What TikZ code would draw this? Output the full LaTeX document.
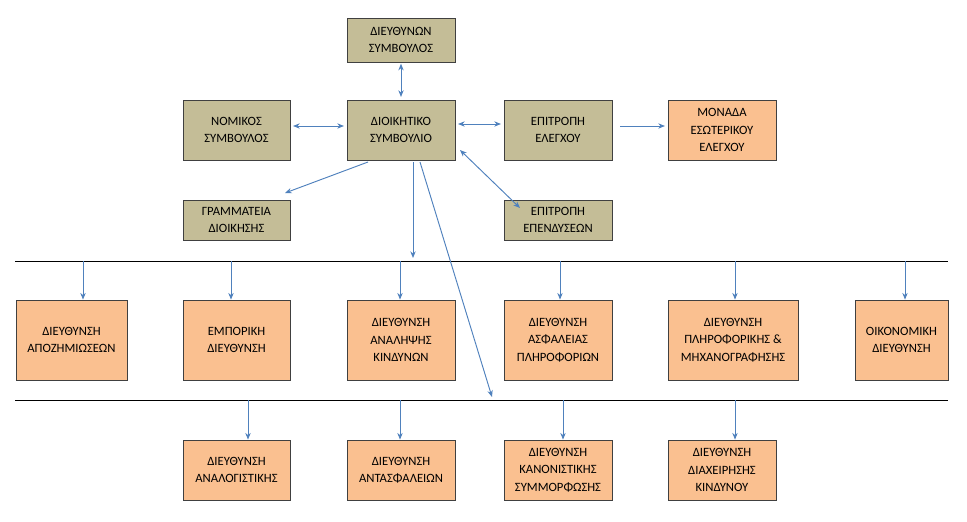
\documentclass[tikz,border=0pt]{standalone}
\usepackage{fontspec}
\setmainfont{Carlito}
\usetikzlibrary{calc,arrows.meta}
\begin{document}
\begin{tikzpicture}[x=0.75pt,y=-0.75pt,
  box/.style={draw=black!75,line width=0.6pt,align=center,inner sep=1pt,font=\fontsize{9.5}{13}\selectfont},
  kh/.style={box,fill=kh},
  og/.style={box,fill=og},
  arr/.style={draw=ar,line width=0.7pt,-{Stealth[length=5pt,width=4pt]}},
  darr/.style={draw=ar,line width=0.7pt,{Stealth[length=5pt,width=4pt]}-{Stealth[length=5pt,width=4pt]}},
  hl/.style={draw=black,line width=0.6pt}]
\definecolor{kh}{HTML}{C4BD97}
\definecolor{og}{HTML}{FAC090}
\definecolor{ar}{HTML}{4F81BD}
\useasboundingbox[fill=white] (0,0) rectangle (967,521);
\def\bx#1#2#3#4#5#6#7{\node[#1,minimum width={(#4-#3)*0.75pt},minimum height={(#6-#5)*0.75pt}] (#2) at ({(#3+#4)/2},{(#5+#6)/2}) {#7};}
\bx{kh}{dsym}{347}{455}{18}{62}{ΔΙΕΥΘΥΝΩΝ\\ΣΥΜΒΟΥΛΟΣ}
\bx{kh}{nom}{183}{290}{100}{160}{ΝΟΜΙΚΟΣ\\ΣΥΜΒΟΥΛΟΣ}
\bx{kh}{ds}{347}{455}{100}{160}{ΔΙΟΙΚΗΤΙΚΟ\\ΣΥΜΒΟΥΛΙΟ}
\bx{kh}{epel}{504}{612}{100}{160}{ΕΠΙΤΡΟΠΗ\\ΕΛΕΓΧΟΥ}
\bx{og}{mon}{668}{776}{100}{160}{ΜΟΝΑΔΑ\\ΕΣΩΤΕΡΙΚΟΥ\\ΕΛΕΓΧΟΥ}
\bx{kh}{gram}{183}{290}{200}{240}{ΓΡΑΜΜΑΤΕΙΑ\\ΔΙΟΙΚΗΣΗΣ}
\bx{kh}{epen}{504}{612}{200}{240}{ΕΠΙΤΡΟΠΗ\\ΕΠΕΝΔΥΣΕΩΝ}
\bx{og}{r1}{16}{127}{300}{380}{ΔΙΕΥΘΥΝΣΗ\\ΑΠΟΖΗΜΙΩΣΕΩΝ}
\bx{og}{r2}{183}{290}{300}{380}{ΕΜΠΟΡΙΚΗ\\ΔΙΕΥΘΥΝΣΗ}
\bx{og}{r3}{347}{455}{300}{380}{ΔΙΕΥΘΥΝΣΗ\\ΑΝΑΛΗΨΗΣ\\ΚΙΝΔΥΝΩΝ}
\bx{og}{r4}{504}{612}{300}{380}{ΔΙΕΥΘΥΝΣΗ\\ΑΣΦΑΛΕΙΑΣ\\ΠΛΗΡΟΦΟΡΙΩΝ}
\bx{og}{r5}{668}{798}{300}{380}{ΔΙΕΥΘΥΝΣΗ\\ΠΛΗΡΟΦΟΡΙΚΗΣ \&\\ΜΗΧΑΝΟΓΡΑΦΗΣΗΣ}
\bx{og}{r6}{855}{948}{300}{380}{ΟΙΚΟΝΟΜΙΚΗ\\ΔΙΕΥΘΥΝΣΗ}
\bx{og}{s1}{183}{290}{440}{500}{ΔΙΕΥΘΥΝΣΗ\\ΑΝΑΛΟΓΙΣΤΙΚΗΣ}
\bx{og}{s2}{347}{455}{440}{500}{ΔΙΕΥΘΥΝΣΗ\\ΑΝΤΑΣΦΑΛΕΙΩΝ}
\bx{og}{s3}{504}{612}{440}{500}{ΔΙΕΥΘΥΝΣΗ\\ΚΑΝΟΝΙΣΤΙΚΗΣ\\ΣΥΜΜΟΡΦΩΣΗΣ}
\bx{og}{s4}{668}{776}{440}{500}{ΔΙΕΥΘΥΝΣΗ\\ΔΙΑΧΕΙΡΗΣΗΣ\\ΚΙΝΔΥΝΟΥ}
\coordinate (l1a) at (15,261); \coordinate (l1b) at (948,261);
\coordinate (l2a) at (15,400); \coordinate (l2b) at (948,400);
\draw[hl] (l1a) -- (l1b);
\draw[hl] (l2a) -- (l2b);
\draw[darr] ([yshift=-1pt]dsym.south) -- ([yshift=2pt]ds.north);
\draw[darr] ([xshift=-2pt]ds.west |- 0,126) -- ([xshift=2pt]nom.east |- 0,126);
\draw[darr] ([xshift=2pt]ds.east |- 0,124) -- ([xshift=-2pt]epel.west |- 0,124);
\draw[arr] ([xshift=6pt]epel.east |- 0,126) -- ([xshift=-2pt]mon.west |- 0,126);
\draw[arr] (368,162) -- (285,193);
\coordinate (d1) at (460,150); \coordinate (d2) at (520,208);
\draw[darr] (d1) -- (d2);
\coordinate (v1) at (413,258);
\draw[arr] (413,162) -- (v1);
\coordinate (v2) at (492,397);
\draw[arr] (420,162) -- (v2);
\foreach \n/\x in {r1/83,r2/231,r3/400,r4/560,r5/735,r6/905}{
  \draw[arr] (\x,261) -- (\n.north -| \x,0);}
\foreach \n/\x in {s1/248,s2/400,s3/563,s4/735}{
  \draw[arr] (\x,400) -- (\n.north -| \x,0);}
\end{tikzpicture}
\end{document}
